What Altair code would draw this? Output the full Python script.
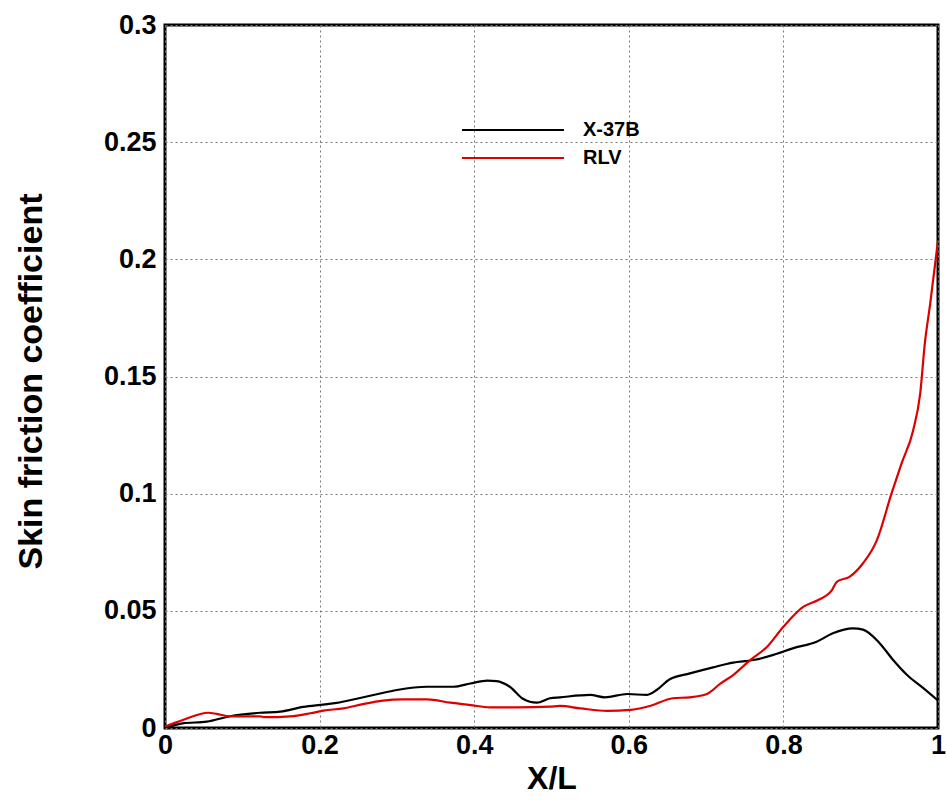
import altair as alt
import pandas as pd

series_names = ["X-37B", "RLV"]
series_colors = ["#000000", "#dd0000"]

x37_x = [0, 0.023, 0.054, 0.084, 0.123, 0.149, 0.179, 0.205, 0.222, 0.248, 0.274, 0.300,
         0.339, 0.373, 0.395, 0.417, 0.429, 0.446, 0.463, 0.481, 0.498, 0.511, 0.550, 0.569,
         0.598, 0.623, 0.636, 0.653, 0.679, 0.709, 0.735, 0.761, 0.787, 0.812, 0.843, 0.864,
         0.890, 0.903, 0.925, 0.942, 0.960, 0.981, 1.0]
x37_y = [0, 0.002, 0.0027, 0.005, 0.0065, 0.007, 0.009, 0.010, 0.0107, 0.0125, 0.0144, 0.0162,
         0.0176, 0.0176, 0.019, 0.0202, 0.020, 0.0176, 0.0125, 0.0108, 0.0127, 0.0131, 0.0141, 0.0131,
         0.0145, 0.0141, 0.0162, 0.0208, 0.0233, 0.0259, 0.0279, 0.029, 0.0312, 0.034, 0.0368, 0.0404,
         0.0425, 0.042, 0.036, 0.029, 0.0226, 0.017, 0.0117]

rlv_x = [0, 0.023, 0.056, 0.067, 0.084, 0.123, 0.129, 0.162, 0.188, 0.205, 0.231, 0.256,
         0.282, 0.308, 0.339, 0.369, 0.395, 0.420, 0.455, 0.498, 0.511, 0.537, 0.572, 0.602,
         0.627, 0.657, 0.679, 0.701, 0.718, 0.735, 0.757, 0.779, 0.800, 0.826, 0.845, 0.863,
         0.869, 0.886, 0.903, 0.921, 0.940, 0.953, 0.968, 0.977, 0.983, 0.990, 1.0]
rlv_y = [0.0006, 0.0034, 0.0065, 0.006, 0.005, 0.005, 0.0046, 0.005, 0.0063, 0.0074, 0.0084, 0.0102,
         0.0117, 0.0122, 0.0122, 0.0108, 0.0098, 0.0088, 0.0088, 0.0091, 0.0094, 0.0084, 0.0073, 0.0077,
         0.0094, 0.0127, 0.0131, 0.0145, 0.0188, 0.0226, 0.029, 0.0347, 0.0432, 0.0518, 0.0546, 0.0589,
         0.0624, 0.0646, 0.0703, 0.0802, 0.1002, 0.113, 0.1272, 0.1428, 0.1642, 0.1813, 0.208]

x_ticks = [0, 0.2, 0.4, 0.6, 0.8, 1.0]
y_ticks = [0, 0.05, 0.1, 0.15, 0.2, 0.25, 0.3]

assert len(x37_x) == len(x37_y) and len(rlv_x) == len(rlv_y)

df = pd.concat([
    pd.DataFrame({"x": x37_x, "y": x37_y, "series": series_names[0], "order": range(len(x37_x))}),
    pd.DataFrame({"x": rlv_x, "y": rlv_y, "series": series_names[1], "order": range(len(rlv_x))}),
])

W, H = 773, 703
FONT = "Liberation Sans"

color_scale = alt.Scale(domain=series_names, range=series_colors)

lines = alt.Chart(df).mark_line(strokeWidth=2.2, clip=True, interpolate="monotone").encode(
    x=alt.X("x:Q", scale=alt.Scale(domain=[0, 1], nice=False),
            axis=alt.Axis(values=x_ticks, format=".1~f", title="X/L",
                          titleX=W / 2, titleY=50, titleBaseline="middle",
                          titleFontSize=32, labelPadding=4)),
    y=alt.Y("y:Q", scale=alt.Scale(domain=[0, 0.3], nice=False),
            axis=alt.Axis(values=y_ticks, format=".2~f", title="Skin friction coefficient",
                          titleX=-134, titleY=356, titleBaseline="middle",
                          titleFontSize=34, labelPadding=9)),
    color=alt.Color("series:N", scale=color_scale, legend=None),
    detail="series:N",
    order="order:Q",
)

leg_df = pd.DataFrame({"series": series_names, "ypix": [105, 133]})
leg_rules = alt.Chart(leg_df).mark_rule(strokeWidth=2.2).encode(
    x=alt.value(297), x2=alt.value(399),
    y=alt.Y("ypix:Q", scale=None),
    color=alt.Color("series:N", scale=color_scale, legend=None),
)
leg_text = alt.Chart(leg_df).mark_text(
    align="left", baseline="middle", fontSize=20, fontWeight="bold", font=FONT, color="black"
).encode(
    x=alt.value(418),
    y=alt.Y("ypix:Q", scale=None),
    text="series:N",
)

chart = alt.layer(lines, leg_rules, leg_text).properties(
    width=W, height=H,
    autosize=alt.AutoSizeParams(type="none"),
    padding={"left": 165, "top": 25, "right": 9, "bottom": 76},
).configure_view(
    stroke="black", strokeWidth=3,
).configure_axis(
    domain=False, ticks=False, grid=True,
    gridColor="#777777", gridDash=[2, 3], gridWidth=1,
    labelFont=FONT, labelFontSize=27, labelFontWeight="bold", labelColor="black",
    titleFont=FONT, titleFontWeight="bold", titleColor="black",
    labelFlush=False, labelOverlap=False, labelBound=False,
)

chart.save("out.html", embed_options={"renderer": "svg", "actions": False})
